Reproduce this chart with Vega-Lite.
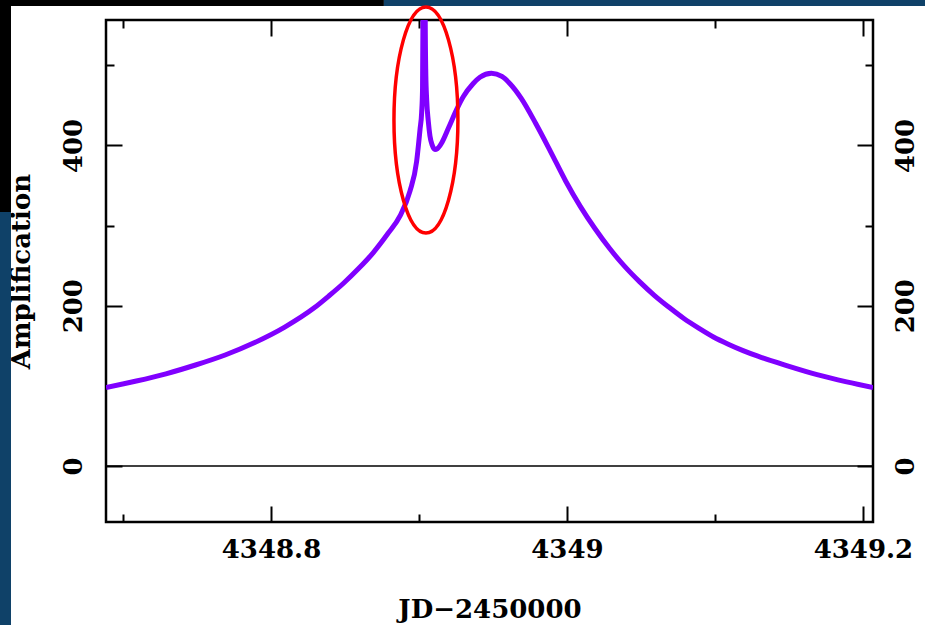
{
  "$schema": "https://vega.github.io/schema/vega-lite/v6.json",
  "width": 767,
  "height": 502,
  "autosize": {"type": "none"},
  "padding": {"left": 106, "top": 20, "right": 52, "bottom": 103},
  "background": "#ffffff",
  "config": {
    "view": {"stroke": "#000000", "strokeWidth": 2.5},
    "axis": {
      "domain": false,
      "grid": false,
      "tickColor": "#000000",
      "tickWidth": 2,
      "labelFont": "DejaVu Serif",
      "labelFontSize": 26,
      "labelFontWeight": "bold",
      "labelColor": "#000000",
      "titleFont": "DejaVu Serif",
      "titleFontSize": 26,
      "titleFontWeight": "bold",
      "titleColor": "#000000"
    }
  },
  "datasets": {
    "curve": [
      {"t": 4348.6885, "A": 98},
      {"t": 4348.709, "A": 106},
      {"t": 4348.729, "A": 115},
      {"t": 4348.749, "A": 126},
      {"t": 4348.769, "A": 138.5},
      {"t": 4348.789, "A": 154},
      {"t": 4348.809, "A": 173},
      {"t": 4348.829, "A": 197},
      {"t": 4348.839, "A": 212},
      {"t": 4348.849, "A": 228},
      {"t": 4348.859, "A": 246},
      {"t": 4348.869, "A": 266},
      {"t": 4348.879, "A": 290},
      {"t": 4348.8872, "A": 312},
      {"t": 4348.8939, "A": 343},
      {"t": 4348.8984, "A": 380},
      {"t": 4348.9007, "A": 420},
      {"t": 4348.9018, "A": 441},
      {"t": 4348.9024, "A": 470},
      {"t": 4348.9027, "A": 560},
      {"t": 4348.9033, "A": 900},
      {"t": 4348.9040, "A": 700},
      {"t": 4348.9042, "A": 560},
      {"t": 4348.9046, "A": 490},
      {"t": 4348.9052, "A": 457},
      {"t": 4348.9063, "A": 430},
      {"t": 4348.9074, "A": 412},
      {"t": 4348.9090, "A": 400},
      {"t": 4348.9108, "A": 395},
      {"t": 4348.9125, "A": 396},
      {"t": 4348.9153, "A": 403},
      {"t": 4348.9200, "A": 422},
      {"t": 4348.9255, "A": 445},
      {"t": 4348.9300, "A": 461},
      {"t": 4348.9365, "A": 477},
      {"t": 4348.9412, "A": 485},
      {"t": 4348.9490, "A": 490},
      {"t": 4348.9560, "A": 486},
      {"t": 4348.9615, "A": 477},
      {"t": 4348.969, "A": 459},
      {"t": 4348.979, "A": 427},
      {"t": 4348.989, "A": 392},
      {"t": 4348.999, "A": 356},
      {"t": 4349.009, "A": 324},
      {"t": 4349.019, "A": 296},
      {"t": 4349.029, "A": 271},
      {"t": 4349.039, "A": 249},
      {"t": 4349.049, "A": 230},
      {"t": 4349.059, "A": 213},
      {"t": 4349.069, "A": 198},
      {"t": 4349.079, "A": 184},
      {"t": 4349.089, "A": 172},
      {"t": 4349.099, "A": 161},
      {"t": 4349.109, "A": 152},
      {"t": 4349.119, "A": 144},
      {"t": 4349.129, "A": 137},
      {"t": 4349.149, "A": 125},
      {"t": 4349.169, "A": 114},
      {"t": 4349.189, "A": 105},
      {"t": 4349.2068, "A": 98}
    ],
    "frame": [
      {"part": "topL", "x1": 4348.55, "x2": 4348.8763, "y1": 574, "y2": 640},
      {"part": "topR", "x1": 4348.8763, "x2": 4349.30, "y1": 574, "y2": 640},
      {"part": "leftT", "x1": 4348.55, "x2": 4348.6243, "y1": 317, "y2": 640},
      {"part": "leftB", "x1": 4348.55, "x2": 4348.6243, "y1": -240, "y2": 317}
    ],
    "marker": [{"t": 4348.9047, "A": 431.7}]
  },
  "resolve": {"axis": {"x": "independent", "y": "independent"}},
  "layer": [
    {
      "data": {"name": "frame"},
      "mark": {"type": "rect", "clip": false},
      "encoding": {
        "x": {"field": "x1", "type": "quantitative", "scale": {"domain": [4348.6885, 4349.2068], "nice": false, "zero": false}, "axis": null},
        "x2": {"field": "x2"},
        "y": {"field": "y1", "type": "quantitative", "scale": {"domain": [-69.9, 556.5], "nice": false, "zero": false}, "axis": null},
        "y2": {"field": "y2"},
        "color": {"field": "part", "type": "nominal", "legend": null,
          "scale": {"domain": ["topL", "topR", "leftT", "leftB"], "range": ["#000000", "#0f4168", "#000000", "#0f4168"]}}
      }
    },
    {
      "data": {"name": "curve"},
      "mark": {"type": "line", "clip": true, "color": "#8000ff", "strokeWidth": 5, "interpolate": "monotone"},
      "encoding": {
        "x": {"field": "t", "type": "quantitative",
          "axis": {"orient": "bottom", "values": [4348.8, 4349, 4349.2], "labelExpr": "datum.value == 4349 ? '4349' : format(datum.value, '.1f')", "tickSize": -16, "labelPadding": 30, "title": "JD\u22122450000", "titlePadding": 34, "labelFlush": false}},
        "y": {"field": "A", "type": "quantitative",
          "axis": {"orient": "left", "values": [0, 200, 400], "tickSize": -16, "labelAngle": 270, "labelAlign": "center", "labelBaseline": "bottom", "labelPadding": 36, "title": "Amplification", "titlePadding": 26}}
      }
    },
    {
      "data": {"name": "marker"},
      "mark": {"type": "rule", "color": "#000000", "strokeWidth": 1.5},
      "encoding": {
        "y": {"datum": 0, "type": "quantitative", "axis": null}
      }
    },
    {
      "data": {"name": "marker"},
      "mark": {"type": "point", "opacity": 0},
      "encoding": {
        "x": {"field": "t", "type": "quantitative",
          "axis": {"orient": "top", "values": [4348.8, 4349, 4349.2], "tickSize": -16, "labels": false, "title": null}},
        "y": {"field": "A", "type": "quantitative",
          "axis": {"orient": "right", "values": [0, 200, 400], "tickSize": -16, "labelAngle": 270, "labelAlign": "center", "labelBaseline": "top", "labelPadding": 35, "title": null}}
      }
    },
    {
      "data": {"name": "marker"},
      "mark": {"type": "point", "opacity": 0},
      "encoding": {
        "x": {"field": "t", "type": "quantitative",
          "axis": {"orient": "bottom", "values": [4348.7, 4348.9, 4349.1], "tickSize": -8, "labels": false, "title": null}},
        "y": {"field": "A", "type": "quantitative",
          "axis": {"orient": "left", "values": [100, 300, 500], "tickSize": -8, "labels": false, "title": null}}
      }
    },
    {
      "data": {"name": "marker"},
      "mark": {"type": "point", "opacity": 0},
      "encoding": {
        "x": {"field": "t", "type": "quantitative",
          "axis": {"orient": "top", "values": [4348.7, 4348.9, 4349.1], "tickSize": -8, "labels": false, "title": null}},
        "y": {"field": "A", "type": "quantitative",
          "axis": {"orient": "right", "values": [100, 300, 500], "tickSize": -8, "labels": false, "title": null}}
      }
    },
    {
      "data": {"name": "marker"},
      "mark": {"type": "point", "clip": false, "filled": false, "color": "#ff0000", "strokeWidth": 3.5, "opacity": 1, "size": 51076,
        "shape": "M0,-1C0.1563,-1 0.283,-0.5523 0.283,0C0.283,0.5523 0.1563,1 0,1C-0.1563,1 -0.283,0.5523 -0.283,0C-0.283,-0.5523 -0.1563,-1 0,-1Z"},
      "encoding": {
        "x": {"field": "t", "type": "quantitative", "axis": null},
        "y": {"field": "A", "type": "quantitative", "axis": null}
      }
    }
  ]
}
